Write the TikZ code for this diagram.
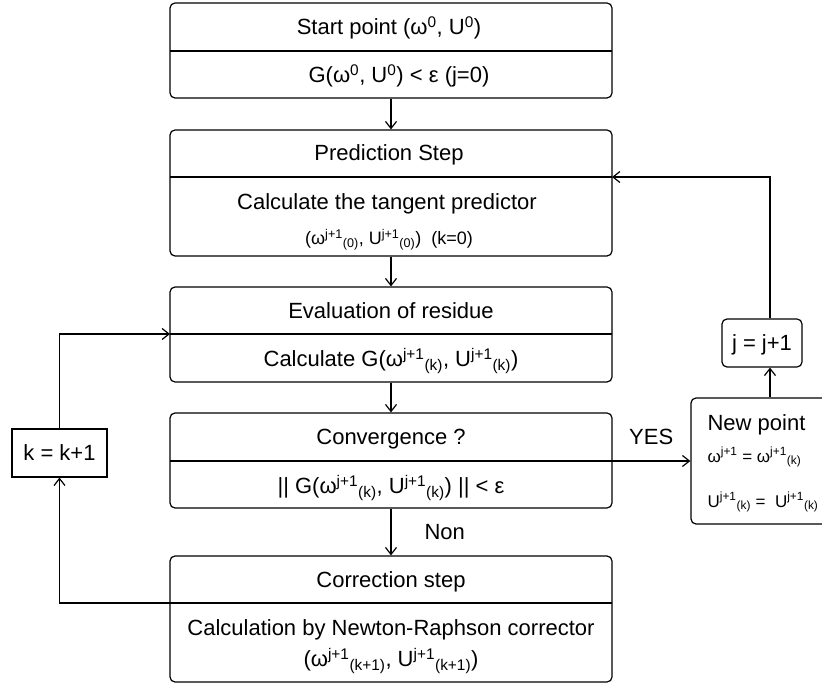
\documentclass[tikz,border=0pt]{standalone}
\usepackage{fontspec}
\setmainfont{Liberation Sans}
\usetikzlibrary{arrows.meta}

\tikzset{
    lane/.style={draw, rounded corners=5pt, minimum width=442pt, inner sep=0pt},
    sbox/.style={draw, inner sep=0pt, font=\fontsize{22}{26}\selectfont, text height=15.8pt, text depth=0pt},
    lab/.style={font=\fontsize{22}{26}\selectfont, text height=15.8pt, text depth=0pt, inner sep=0pt},
    labsmall/.style={font=\fontsize{18}{22}\selectfont, text height=12.9pt, text depth=0pt, inner sep=0pt},
    labnew/.style={font=\fontsize{17}{20}\selectfont, text height=12.2pt, text depth=0pt, inner sep=0pt, anchor=west}
}

\begin{document}
\begin{tikzpicture}[x=1pt, y=-1pt, line width=1.2pt, >={Straight Barb[length=7pt,width=11pt]}]
    % Area
    \useasboundingbox (0,0) rectangle (822,684);

    % Blocchi principali
    \node[lane, minimum height=95pt] (start) at (391,50.5) {};
    \node[lane, minimum height=126pt] (pred) at (391,193) {};
    \node[lane, minimum height=95pt] (eval) at (391,334.5) {};
    \node[lane, minimum height=95pt] (conv) at (391,460.5) {};
    \node[lane, minimum height=126pt] (corr) at (391,619) {};

    % Punti sui separatori
    \coordinate (predR) at (612,177);
    \coordinate (evalL) at (170,334);
    \coordinate (convR) at (612,461);
    \coordinate (corrL) at (170,603);

    % Separatori
    \draw (170,51) -- (612,51);
    \draw (170,177) -- (predR);
    \draw (evalL) -- (612,334);
    \draw (170,461) -- (convR);
    \draw (corrL) -- (612,603);

    % Testi
    \node[lab] (startH) at (389,27) {Start point (ω\textsuperscript{0}, U\textsuperscript{0})};
    \node[lab] (startB) at (399,75) {G(ω\textsuperscript{0}, U\textsuperscript{0}) < ε (j=0)};
    \node[lab] (predH) at (389,153) {Prediction Step};
    \node[lab] (predB) at (387,202) {Calculate the tangent predictor};
    \node[labsmall] (predF) at (389,238) {(ω\textsuperscript{j+1}\textsubscript{(0)}, U\textsuperscript{j+1}\textsubscript{(0)})\ \ (k=0)};
    \node[lab] (evalH) at (391,311) {Evaluation of residue};
    \node[lab] (evalB) at (391,359) {Calculate G(ω\textsuperscript{j+1}\textsubscript{(k)}, U\textsuperscript{j+1}\textsubscript{(k)})};
    \node[lab] (convH) at (391,437) {Convergence ?};
    \node[lab] (convB) at (391,486) {|| G(ω\textsuperscript{j+1}\textsubscript{(k)}, U\textsuperscript{j+1}\textsubscript{(k)}) || < ε};
    \node[lab] (corrH) at (391,580) {Correction step};
    \node[lab] (corrB) at (391,628) {Calculation by Newton-Raphson corrector};
    \node[lab] (corrF) at (391,659) {(ω\textsuperscript{j+1}\textsubscript{(k+1)}, U\textsuperscript{j+1}\textsubscript{(k+1)})};

    % Blocchi laterali
    \node[sbox, minimum width=95pt, minimum height=48pt] (kstep) at (59.5,453) {k = k+1};
    \node[sbox, rounded corners=5pt, minimum width=80pt, minimum height=48pt] (jstep) at (762,343) {j = j+1};
    \node[lane, minimum width=158pt, minimum height=126pt] (newpt) at (770,461) {};
    \node[lab, anchor=west] (newptH) at (707,423) {New point};
    \node[labnew] (newptW) at (707,456) {ω\textsuperscript{j+1} = ω\textsuperscript{j+1}\textsubscript{(k)}};
    \node[labnew] (newptU) at (707,501) {U\textsuperscript{j+1}\textsubscript{(k)} = \ U\textsuperscript{j+1}\textsubscript{(k)}};

    % Frecce
    \draw[->] (start) -- (pred);
    \draw[->] (pred) -- (eval);
    \draw[->] (eval) -- (conv);
    \draw[->] (conv) -- node[lab, right=33pt] (non) {Non} (corr);
    \draw[->] (convR) -- node[lab, above=16pt] (yes) {YES} (convR -| newpt.west);
    \draw[->] (newpt.north) -- (newpt.north |- jstep.south);
    \draw[->] (newpt.north |- jstep.north) |- (predR);
    \draw[->] (corrL) -| (kstep.south);
    \draw[->] (kstep.north) |- (evalL);
\end{tikzpicture}
\end{document}
